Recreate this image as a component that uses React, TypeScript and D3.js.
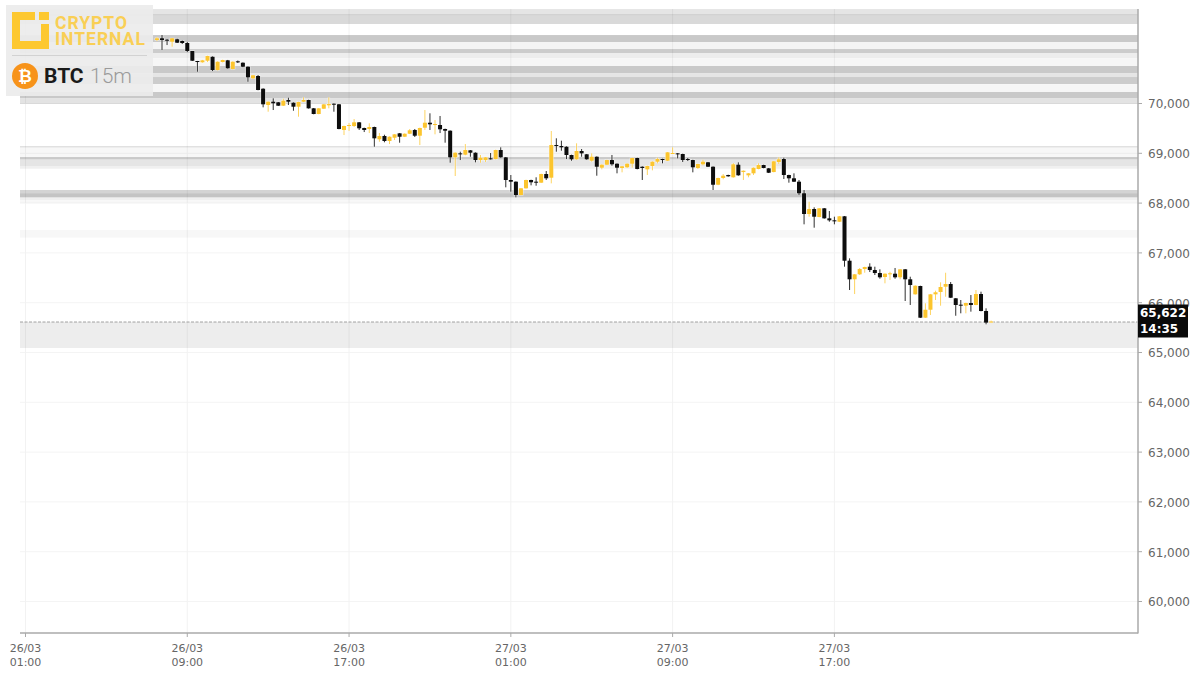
import React from "react";
import * as d3 from "d3";

// candles are 15 minute bars, the first visible one sits behind the logo edge
const FIRST_BAR = "2026-03-26T07:30:00Z";
const BAR_MS = 15 * 60 * 1000;

const opens = [
  71275, 71309, 71281, 71241, 71289, 71255, 71215, 71054, 70853, 70827, 70859, 70939, 70672, 70833, 70867, 70692,
  70847, 70819, 70739, 70506, 70552, 70297, 69970, 70036, 70024, 69956, 70070, 70016, 69936, 70036, 70070, 69903,
  69789, 69895, 69964, 69996, 69984, 69468, 69548, 69548, 69622, 69508, 69488, 69528, 69281, 69347, 69247, 69313,
  69401, 69333, 69393, 69468, 69353, 69514, 69614, 69568, 69568, 69488, 69454, 68919, 68999, 68972, 69060, 69012,
  68865, 68865, 68899, 68885, 69066, 68919, 68464, 68430, 68162, 68297, 68464, 68430, 68410, 68584, 68510, 69166,
  69146, 69132, 68966, 68879, 69046, 68980, 68851, 68931, 68711, 68771, 68865, 68791, 68705, 68719, 68791, 68905,
  68731, 68678, 68745, 68831, 68885, 68851, 69000, 68999, 68986, 68885, 68865, 68705, 68779, 68819, 68731, 68369,
  68504, 68564, 68518, 68771, 68624, 68558, 68598, 68685, 68765, 68698, 68624, 68825, 68885, 68564, 68498, 68430,
  68197, 67781, 67881, 67721, 67895, 67694, 67654, 67626, 67735, 66843, 66470, 66570, 66676, 66723, 66656, 66596,
  66516, 66576, 66582, 66510, 66670, 66470, 66168, 66335, 65699, 65859, 66168, 66215, 66321, 66375, 66088, 65960,
  65940, 65994, 65954, 66174, 65833, 65610,
];
const highs = [
  71335, 71375, 71295, 71315, 71301, 71265, 71235, 71054, 70855, 70875, 70960, 70945, 70845, 70880, 70875, 70845,
  70863, 70825, 70745, 70572, 70572, 70305, 70042, 70104, 70030, 70096, 70116, 70022, 70036, 70124, 70076, 69909,
  69909, 69990, 70124, 70002, 69990, 69555, 69608, 69688, 69628, 69515, 69602, 69535, 69407, 69373, 69340, 69387,
  69407, 69400, 69488, 69488, 69515, 69869, 69803, 69668, 69749, 69495, 69460, 69018, 69032, 69186, 69066, 69018,
  68966, 68925, 69006, 69072, 69120, 68925, 68564, 68436, 68303, 68470, 68470, 68518, 68590, 68644, 69448, 69301,
  69253, 69140, 68972, 69200, 69086, 68986, 68999, 68938, 68778, 68871, 68966, 68797, 68745, 68797, 68911, 68911,
  68738, 68751, 68838, 68911, 68891, 69026, 69120, 69005, 68992, 68905, 68871, 68791, 68871, 68825, 68737, 68510,
  68584, 68570, 68805, 68819, 68656, 68604, 68716, 68799, 68771, 68705, 68845, 68919, 68911, 68570, 68598, 68464,
  68263, 68028, 67915, 67901, 67901, 67841, 67727, 67741, 67741, 66891, 66576, 66697, 66723, 66791, 66723, 66670,
  66588, 66622, 66697, 66676, 66676, 66522, 66347, 66341, 65988, 66174, 66241, 66409, 66602, 66415, 66094, 66054,
  66000, 66154, 66255, 66221, 65887, 65640,
];
const lows = [
  71255, 71074, 71174, 71140, 71215, 71195, 71034, 70855, 70638, 70820, 70833, 70652, 70665, 70825, 70700, 70685,
  70813, 70730, 70437, 70492, 70265, 69923, 69835, 69869, 69950, 69950, 69970, 69855, 69735, 70030, 69897, 69783,
  69783, 69890, 69903, 69835, 69482, 69367, 69448, 69528, 69468, 69427, 69407, 69132, 69232, 69221, 69186, 69267,
  69213, 69326, 69386, 69327, 69166, 69468, 69468, 69381, 69407, 69213, 68811, 68544, 68865, 68960, 68931, 68819,
  68811, 68825, 68875, 68878, 68912, 68317, 68229, 68116, 68155, 68290, 68357, 68349, 68403, 68464, 68397, 69032,
  69052, 68885, 68851, 68872, 68931, 68872, 68831, 68550, 68678, 68765, 68751, 68598, 68618, 68705, 68711, 68678,
  68464, 68564, 68658, 68799, 68799, 68845, 68993, 68899, 68825, 68845, 68618, 68685, 68759, 68725, 68263, 68360,
  68478, 68530, 68510, 68550, 68464, 68518, 68564, 68678, 68699, 68604, 68618, 68785, 68484, 68410, 68424, 68162,
  67574, 67727, 67506, 67715, 67688, 67626, 67574, 67620, 66723, 66255, 66174, 66556, 66602, 66616, 66556, 66482,
  66389, 66456, 66482, 66470, 66034, 65954, 66162, 65693, 65693, 65753, 66054, 65940, 66120, 66094, 65738, 65787,
  65787, 65820, 65948, 65827, 65566, 65600,
];
const closes = [
  71309, 71275, 71261, 71309, 71221, 71215, 71054, 70859, 70833, 70867, 70954, 70672, 70839, 70873, 70707, 70839,
  70827, 70739, 70526, 70566, 70271, 69984, 70036, 70004, 69956, 70056, 70036, 69936, 70030, 70070, 69903, 69789,
  69903, 69983, 69990, 69976, 69488, 69548, 69568, 69622, 69502, 69468, 69528, 69301, 69347, 69247, 69333, 69381,
  69333, 69393, 69462, 69353, 69508, 69614, 69582, 69588, 69482, 69454, 68919, 69012, 68979, 69066, 69012, 68865,
  68911, 68919, 68885, 69066, 68919, 68464, 68430, 68162, 68297, 68464, 68418, 68418, 68584, 68498, 69166, 69146,
  69120, 68966, 68879, 69046, 68999, 68879, 68931, 68731, 68771, 68865, 68779, 68711, 68739, 68791, 68905, 68685,
  68705, 68745, 68831, 68885, 68865, 69020, 69006, 68979, 68865, 68865, 68719, 68785, 68831, 68731, 68369, 68504,
  68550, 68538, 68779, 68558, 68650, 68598, 68710, 68765, 68705, 68610, 68839, 68879, 68564, 68498, 68430, 68197,
  67781, 67881, 67727, 67895, 67694, 67654, 67634, 67735, 66843, 66470, 66570, 66676, 66717, 66656, 66596, 66510,
  66582, 66590, 66510, 66670, 66470, 66355, 66341, 65699, 65859, 66168, 66209, 66315, 66375, 66100, 65954, 65947,
  65994, 65954, 66174, 65833, 65600, 65622,
];

// support / resistance zones, drawn as stacked grey strips
const zoneHighs = [
  71897, 71797, 71767, 71375, 71235, 71094, 71014, 70913, 70753, 70612, 70532, 70391, 70231, 70110, 69146, 69116,
  68925, 68879, 68745, 68263, 68197, 68116, 68062, 67460, 65612,
];
const zoneLows = [
  71797, 71767, 71596, 71235, 71094, 71014, 70913, 70753, 70612, 70532, 70391, 70231, 70110, 69990, 69116, 68925,
  68879, 68745, 68690, 68197, 68116, 68062, 68002, 67305, 65090,
];
const zoneStrength = [
  0.1, 0.18, 0.15, 0.21, 0.045, 0.2, 0.07, 0.035, 0.21, 0.1, 0.2, 0.035, 0.21, 0.11, 0.12, 0.03, 0.21, 0.1, 0.06,
  0.17, 0.23, 0.06, 0.03, 0.03, 0.07,
];

const priceTicks = [60000, 61000, 62000, 63000, 64000, 65000, 66000, 67000, 68000, 69000, 70000];
const timeTicks = [
  "2026-03-26T01:00:00Z",
  "2026-03-26T09:00:00Z",
  "2026-03-26T17:00:00Z",
  "2026-03-27T01:00:00Z",
  "2026-03-27T09:00:00Z",
  "2026-03-27T17:00:00Z",
];
const lastPrice = 65622;
const countdown = "14:35";

const UP = "#fcc52e";
const DOWN = "#0a0a0a";
const AXIS = "#aaaaaa";
const LABEL = "#666666";

export default function App() {
  const width = 1200;
  const height = 677;
  const plot = { left: 20, right: 1138, top: 9, bottom: 633 };

  const x = d3
    .scaleUtc()
    .domain([new Date(timeTicks[0]), new Date(timeTicks[5])])
    .range([25.5, 834.4]);
  const y = d3.scaleLinear().domain([60000, 70000]).range([601.5, 103.5]);

  const firstMs = new Date(FIRST_BAR).getTime();
  const fmtPrice = d3.format(",");
  const fmtDay = d3.utcFormat("%d/%m");
  const fmtHour = d3.utcFormat("%H:%M");
  const bodyW = 4;

  return (
    <svg
      width={width}
      height={height}
      style={{ position: "absolute", left: 0, top: 0, display: "block", background: "#fff" }}
      fontFamily="'DejaVu Sans', sans-serif"
    >
      <defs>
        <filter id="softZone" filterUnits="userSpaceOnUse" x={0} y={0} width={width} height={height}>
          <feGaussianBlur stdDeviation="0 0.5" />
        </filter>
        <filter id="softCandle" filterUnits="userSpaceOnUse" x={0} y={0} width={width} height={height}>
          <feGaussianBlur stdDeviation="0.25" />
        </filter>
      </defs>

      {/* Grid */}
      {priceTicks.map((t) => (
        <line key={t} x1={plot.left} x2={plot.right} y1={y(t)} y2={y(t)} stroke="#f4f4f4" />
      ))}
      {timeTicks.map((t) => (
        <line key={t} x1={x(new Date(t))} x2={x(new Date(t))} y1={plot.top} y2={plot.bottom} stroke="#f2f2f2" />
      ))}

      {/* Zones */}
      <g filter="url(#softZone)">
        {zoneHighs.map((h, i) => (
          <rect
            key={h}
            x={plot.left}
            width={plot.right - plot.left}
            y={y(h)}
            height={y(zoneLows[i]) - y(h)}
            fill={`rgba(0,0,0,${zoneStrength[i]})`}
          />
        ))}
      </g>

      {/* Last price line */}
      <line
        x1={plot.left}
        x2={plot.right}
        y1={y(lastPrice) + 0.5}
        y2={y(lastPrice) + 0.5}
        stroke="#a0a0a0"
        strokeDasharray="3 1.5"
      />

      {/* Candles */}
      <g filter="url(#softCandle)">
        {opens.map((o, i) => {
          const c = closes[i];
          const color = c >= o ? UP : DOWN;
          const cx = x(new Date(firstMs + i * BAR_MS));
          const top = y(Math.max(o, c));
          const bodyH = Math.max(Math.abs(y(o) - y(c)), 1);
          return (
            <g key={i}>
              <line x1={cx} x2={cx} y1={y(highs[i])} y2={y(lows[i])} stroke="#fff" strokeOpacity={0.5} strokeWidth={2.5} />
              <rect x={cx - bodyW / 2 - 0.5} y={top - 0.5} width={bodyW + 1} height={bodyH + 1} fill="#fff" fillOpacity={0.6} />
              <line x1={cx} x2={cx} y1={y(highs[i])} y2={y(lows[i])} stroke={color} strokeWidth={1} strokeOpacity={c >= o ? 0.75 : 0.85} />
              <rect x={cx - bodyW / 2} y={top} width={bodyW} height={bodyH} fill={color} />
            </g>
          );
        })}
      </g>

      {/* Axes */}
      <line x1={plot.right} x2={plot.right} y1={plot.top} y2={plot.bottom + 0.5} stroke={AXIS} strokeWidth={1.5} />
      <line x1={plot.left} x2={plot.right} y1={plot.bottom} y2={plot.bottom} stroke={AXIS} strokeWidth={1.5} />
      {priceTicks.map((t) => (
        <g key={t}>
          <line x1={plot.right} x2={plot.right + 4} y1={y(t)} y2={y(t)} stroke={AXIS} />
          <text x={1190} y={y(t) + 0.5} dy="0.36em" fontSize={12} fill={LABEL} textAnchor="end">
            {fmtPrice(t)}
          </text>
        </g>
      ))}
      {timeTicks.map((t) => {
        const d = new Date(t);
        return (
          <g key={t}>
            <line x1={x(d)} x2={x(d)} y1={plot.bottom} y2={plot.bottom + 4} stroke={AXIS} />
            <text x={x(d)} y={652} fontSize={11} fill={LABEL} textAnchor="middle">
              {fmtDay(d)}
            </text>
            <text x={x(d)} y={665.5} fontSize={11} fill={LABEL} textAnchor="middle">
              {fmtHour(d)}
            </text>
          </g>
        );
      })}

      {/* Last price tag */}
      <rect x={1138} y={304.5} width={50} height={33} fill="#0a0a0a" />
      <text x={1140} y={316.5} fontSize={12} fontWeight={700} fill="#fff">
        {fmtPrice(lastPrice)}
      </text>
      <text x={1140} y={332.5} fontSize={12} fontWeight={700} fill="#fff">
        {countdown}
      </text>

      {/* Logo panel */}
      <rect x={6} y={5} width={147} height={91} fill="#ececec" fillOpacity={0.93} />
      <path d="M12 12H35V20H20V41H41V24H49V49H12Z" fill="#fdc830" />
      <rect x={39} y={12} width={10} height={8} fill="#fdc830" />
      <text x={55} y={28.5} fontFamily="Roboto, sans-serif" fontWeight={700} fontSize={17.5} letterSpacing={1} fill="#f9cf55">
        CRYPTO
      </text>
      <text x={55} y={45} fontFamily="Roboto, sans-serif" fontWeight={700} fontSize={17.5} letterSpacing={1} fill="#f9cf55">
        INTERNAL
      </text>
      <line x1={12} x2={147} y1={55.5} y2={55.5} stroke="#d2d2d2" />
      <circle cx={25} cy={76} r={13} fill="#f7931a" />
      <text x={25} y={82} textAnchor="middle" fontSize={17} fontWeight={700} fill="#fff">
        ₿
      </text>
      <text x={44} y={83} fontFamily="Roboto, sans-serif" fontWeight={700} fontSize={21} fill="#1a1a1a">
        BTC
      </text>
      <text x={90} y={83} fontFamily="Roboto, sans-serif" fontWeight={300} fontSize={21} fill="#9a9a9a">
        15m
      </text>
    </svg>
  );
}
